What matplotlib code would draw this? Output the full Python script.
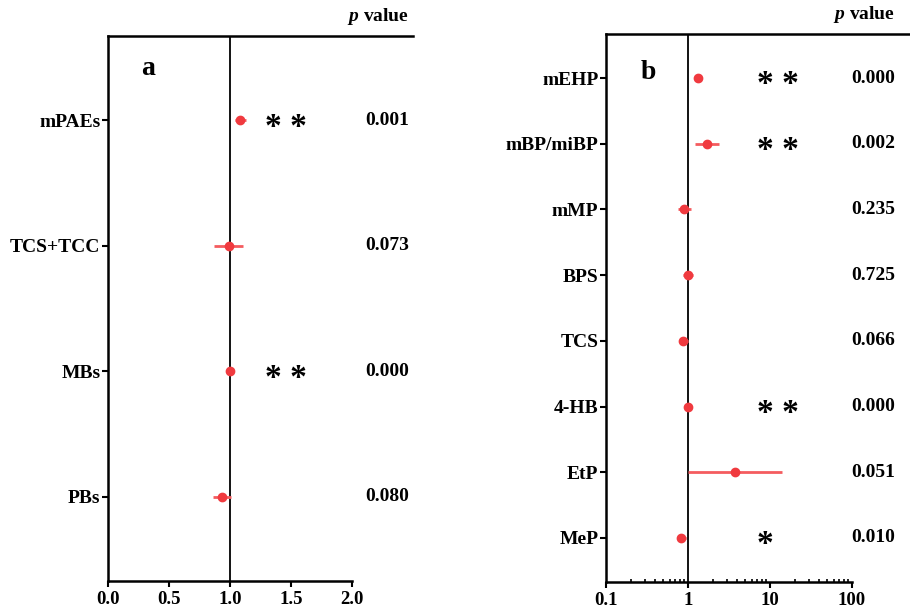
import matplotlib
matplotlib.use("Agg")
import matplotlib.pyplot as plt
from matplotlib.lines import Line2D
from matplotlib.transforms import ScaledTranslation

plt.rcParams['font.family'] = ['Liberation Serif', 'DejaVu Serif']
plt.rcParams['font.weight'] = 'bold'
plt.rcParams['mathtext.fontset'] = 'custom'
plt.rcParams['mathtext.it'] = 'Liberation Serif:italic'
plt.rcParams['mathtext.rm'] = 'Liberation Serif'

# Panel a data
cats_a = ["mPAEs", "TCS+TCC", "MBs", "PBs"]
est_a = [1.08, 0.99, 1.00, 0.935]
lo_a = [1.04, 0.87, 0.995, 0.86]
hi_a = [1.13, 1.11, 1.005, 1.01]
p_a = ["0.001", "0.073", "0.000", "0.080"]
sig_a = ["* *", "", "* *", ""]

# Panel b data
cats_b = ["mEHP", "mBP/miBP", "mMP", "BPS", "TCS", "4-HB", "EtP", "MeP"]
est_b = [1.34, 1.70, 0.885, 1.00, 0.87, 1.01, 3.7, 0.83]
lo_b = [1.22, 1.21, 0.75, 0.87, 0.77, 0.99, 1.0, 0.725]
hi_b = [1.48, 2.39, 1.09, 1.15, 0.99, 1.03, 13.9, 0.95]
p_b = ["0.000", "0.002", "0.235", "0.725", "0.066", "0.000", "0.051", "0.010"]
sig_b = ["* *", "* *", "", "", "", "* *", "", "*"]

pt_color = '#f03a3f'
bar_color = '#f45c5f'
FS = 14

fig = plt.figure(figsize=(9.1, 6.09), dpi=100)
ax_a = fig.add_axes([108/910, 1-581/609, 244/910, 545/609])
ax_b = fig.add_axes([606/910, 1-582/609, 246/910, 548/609])


def style(ax, n):
    for s in ['right', 'top']:
        ax.spines[s].set_visible(False)
    for s in ['left', 'bottom']:
        ax.spines[s].set_linewidth(1.8)
    ax.set_ylim(0.33, n + 0.67)
    ax.tick_params(axis='y', which='major', direction='out', length=4,
                   width=1.5, labelsize=FS, pad=1.5)
    ax.tick_params(axis='x', which='major', direction='out', length=4,
                   width=1.5, labelsize=13.5, pad=3)
    ax.add_line(Line2D([0, 1.25], [1, 1], transform=ax.transAxes,
                       color='black', lw=1.8, clip_on=False))
    ax.axvline(1, color='black', lw=1.3, zorder=1)


def draw(ax, cats, est, lo, hi, p, sig, star_x, p_xaxes):
    n = len(cats)
    ys = list(range(n, 0, -1))
    xerr = [[e - l for e, l in zip(est, lo)], [h - e for e, h in zip(est, hi)]]
    ax.errorbar(est, ys, xerr=xerr, fmt='none', ecolor=bar_color,
                elinewidth=2, capsize=0, zorder=3)
    ax.plot(est, ys, 'o', color=pt_color, ms=6, zorder=4)
    ax.set_yticks(ys)
    ax.set_yticklabels(cats, fontweight='bold')
    off = ScaledTranslation(0, -5.0/72, fig.dpi_scale_trans)
    for y, s in zip(ys, sig):
        if s:
            ax.text(star_x, y, s, ha='left', va='center',
                    fontsize=24, fontweight='bold',
                    transform=ax.transData + off)
    for y, pv in zip(ys, p):
        ax.text(p_xaxes, y, pv, transform=ax.get_yaxis_transform(),
                ha='right', va='center', fontsize=FS, fontweight='bold')
    ax.text(p_xaxes, 1.035, r'$\mathit{p}$ value', transform=ax.transAxes,
            ha='right', va='center', fontsize=FS, fontweight='bold')


style(ax_a, 4)
ax_a.set_xlim(0, 2)
ax_a.set_xticks([0, 0.5, 1.0, 1.5, 2.0])
ax_a.set_xticklabels(['0.0', '0.5', '1.0', '1.5', '2.0'], fontweight='bold')
draw(ax_a, cats_a, est_a, lo_a, hi_a, p_a, sig_a, 1.29, 301/244)
ax_a.text(0.135, 0.94, 'a', transform=ax_a.transAxes, fontsize=20,
          fontweight='bold', ha='left', va='center')

style(ax_b, 8)
ax_b.set_xscale('log')
ax_b.set_xlim(0.1, 100)
ax_b.set_xticks([0.1, 1, 10, 100])
ax_b.set_xticklabels(['0.1', '1', '10', '100'], fontweight='bold')
ax_b.tick_params(axis='x', which='minor', direction='in', length=2.5, width=1.2)
draw(ax_b, cats_b, est_b, lo_b, hi_b, p_b, sig_b, 6.9, 289/246)
ax_b.text(0.14, 0.93, 'b', transform=ax_b.transAxes, fontsize=20,
          fontweight='bold', ha='left', va='center')

fig.savefig('out.png', dpi=100)
